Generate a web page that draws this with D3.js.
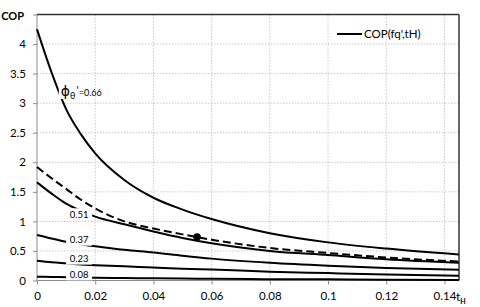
<!DOCTYPE html>
<html>
<head>
<meta charset="utf-8">
<script src="https://cdn.jsdelivr.net/npm/d3@7"></script>
<style>
  body { margin: 0; background: #fff; }
  svg { display: block; font-family: Lato, "Liberation Sans", sans-serif; }
  .grid line { stroke: #c8c8c8; stroke-dasharray: 1.5,1.5; }
  .curve { fill: none; stroke: #000; stroke-width: 2; }
</style>
</head>
<body>
<script>
// t_H sample points
var tH = [0, 0.005, 0.01, 0.015, 0.02, 0.03, 0.04, 0.05, 0.06, 0.08, 0.1, 0.12, 0.145]

// COP for each phi_theta' value
var cop066 = [4.25, 3.52, 2.90, 2.48, 2.15, 1.70, 1.40, 1.20, 1.04, 0.80, 0.645, 0.54, 0.44]
var cop051 = [1.66, 1.47, 1.30, 1.18, 1.08, 0.95, 0.83, 0.72, 0.63, 0.50, 0.43, 0.36, 0.30]
var cop037 = [0.77, 0.71, 0.655, 0.61, 0.58, 0.52, 0.475, 0.42, 0.37, 0.30, 0.25, 0.21, 0.18]
var cop023 = [0.335, 0.31, 0.29, 0.27, 0.26, 0.24, 0.22, 0.20, 0.185, 0.15, 0.125, 0.10, 0.08]
var cop008 = [0.065, 0.06, 0.055, 0.05, 0.047, 0.042, 0.037, 0.033, 0.03, 0.022, 0.02, 0.012, 0.01]
// dashed COP(fq', tH) curve
var copDashed = [1.92, 1.73, 1.55, 1.37, 1.22, 1.0, 0.88, 0.78, 0.69, 0.55, 0.465, 0.39, 0.32]

var curveLabels = ['0.51', '0.37', '0.23', '0.08']
var xTicks = [0, 0.02, 0.04, 0.06, 0.08, 0.1, 0.12, 0.14]
var yTicks = [0, 0.5, 1, 1.5, 2, 2.5, 3, 3.5, 4, 4.5]
var marker = {t: 0.055, cop: 0.735}

var W = 480, H = 307
var margin = {top: 14.5, right: 21, bottom: 26.5, left: 37}

var svg = d3.select('body').append('svg')
    .attr('width', W)
    .attr('height', H)

var x = d3.scaleLinear().domain([0, 0.145]).range([margin.left, W - margin.right])
var y = d3.scaleLinear().domain([0, 4.5]).range([H - margin.bottom, margin.top])

// grid
var grid = svg.append('g').attr('class', 'grid')
grid.selectAll('line.gx')
  .data(xTicks.slice(1))
  .enter().append('line')
    .attr('x1', d => x(d)).attr('x2', d => x(d))
    .attr('y1', y(0)).attr('y2', y(4.5))
grid.selectAll('line.gy')
  .data(yTicks.slice(1, -1))
  .enter().append('line')
    .attr('class', 'gy')
    .attr('x1', x(0)).attr('x2', x(0.145))
    .attr('y1', d => y(d)).attr('y2', d => y(d))

// axes
var xAxis = d3.axisBottom(x).tickValues(xTicks).tickSize(4).tickFormat(d => d3.format('')(d))
var yAxis = d3.axisLeft(y).tickValues(yTicks).tickSize(4)
    .tickFormat(d => d == 4.5 ? 'COP' : d3.format('')(d))

var gx = svg.append('g')
    .attr('transform', 'translate(0,' + y(0) + ')')
    .call(xAxis)
var gy = svg.append('g')
    .attr('transform', 'translate(' + x(0) + ',0)')
    .call(yAxis)

gx.select('.domain').remove()
gy.select('.domain').remove()
gx.selectAll('line').attr('stroke', '#8c8c8c')
gy.selectAll('line').attr('stroke', '#8c8c8c')
gx.selectAll('text').attr('font-size', 11.5).attr('fill', '#000').attr('dy', '1.1em').attr('font-family', 'Lato, sans-serif')
gy.selectAll('text').attr('font-size', 11.5).attr('fill', '#000').attr('x', -11).attr('font-family', 'Lato, sans-serif')
gy.selectAll('.tick').filter(d => d == 4.5).select('text')
    .attr('font-weight', 'bold').attr('font-size', 11).attr('x', -13).attr('dy', '0.45em')

// axis lines and plot border
svg.append('line')
    .attr('x1', x(0)).attr('x2', x(0.145)).attr('y1', y(0)).attr('y2', y(0))
    .attr('stroke', '#8c8c8c')
svg.append('line')
    .attr('x1', x(0)).attr('x2', x(0)).attr('y1', y(0)).attr('y2', y(4.5))
    .attr('stroke', '#8c8c8c')
svg.append('line')
    .attr('x1', x(0)).attr('x2', x(0.145)).attr('y1', y(4.5)).attr('y2', y(4.5))
    .attr('stroke', '#333').attr('stroke-width', 1.5)
svg.append('line')
    .attr('x1', x(0.145)).attr('x2', x(0.145)).attr('y1', y(4.5)).attr('y2', y(0))
    .attr('stroke', '#333').attr('stroke-width', 1.5)

// t_H axis title
var tt = svg.append('text')
    .attr('x', x(0.145) - 3).attr('y', y(0) + 20)
    .attr('font-size', 12)
tt.append('tspan').text('t')
tt.append('tspan').text('H').attr('font-size', 7).attr('dy', 3).attr('font-weight', 'bold')

var line = d3.line()
    .x(d => x(d[0]))
    .y(d => y(d[1]))
    .curve(d3.curveMonotoneX)

var solids = [cop066, cop051, cop037, cop023, cop008]
svg.selectAll('path.curve')
  .data(solids)
  .enter().append('path')
    .attr('class', 'curve')
    .attr('d', d => line(tH.map((t, i) => [t, d[i]])))

svg.append('path')
    .attr('class', 'curve')
    .attr('stroke-width', 1.1)
    .attr('stroke-dasharray', '8,4')
    .attr('d', line(tH.map((t, i) => [t, copDashed[i]])))

svg.append('circle')
    .attr('cx', x(marker.t)).attr('cy', y(marker.cop)).attr('r', 3.8)
    .attr('fill', '#000')

// curve labels with white boxes that break the lines
var labelY = [1.12, 0.69, 0.37, 0.105]
var lab = svg.selectAll('g.lab')
  .data(curveLabels)
  .enter().append('g')
    .attr('transform', (d, i) => 'translate(' + x(0.01) + ',' + y(labelY[i]) + ')')
lab.append('rect')
    .attr('x', 0).attr('y', -6).attr('width', 26).attr('height', 12)
    .attr('fill', '#fff')
lab.append('text')
    .attr('x', 13).attr('dy', '0.35em')
    .attr('text-anchor', 'middle')
    .attr('font-size', 9.5)
    .text(d => d)

// phi label on top curve
var phiLab = svg.append('g').attr('transform', 'translate(' + x(0.0075) + ',' + y(3.19) + ')')
phiLab.append('rect')
    .attr('x', 0).attr('y', -9).attr('width', 36).attr('height', 16)
    .attr('fill', '#fff')
var pt = phiLab.append('text').attr('x', 2).attr('y', 4)
pt.append('tspan').text('ϕ').attr('font-size', 14).attr('font-family', '"DejaVu Sans", sans-serif')
pt.append('tspan').text('θ').attr('font-size', 9).attr('dy', 3)
pt.append('tspan').text("'").attr('font-size', 11).attr('dy', -5).attr('dx', 1)
pt.append('tspan').text('=0.66').attr('font-size', 9).attr('dy', 2)

// legend
var leg = svg.append('g').attr('transform', 'translate(337,34)')
leg.append('line').attr('x1', 0).attr('x2', 25).attr('stroke', '#000').attr('stroke-width', 2)
leg.append('text').attr('x', 27).attr('dy', '0.35em').attr('font-size', 11.5).text("COP(fq',tH)")
</script>
</body>
</html>
